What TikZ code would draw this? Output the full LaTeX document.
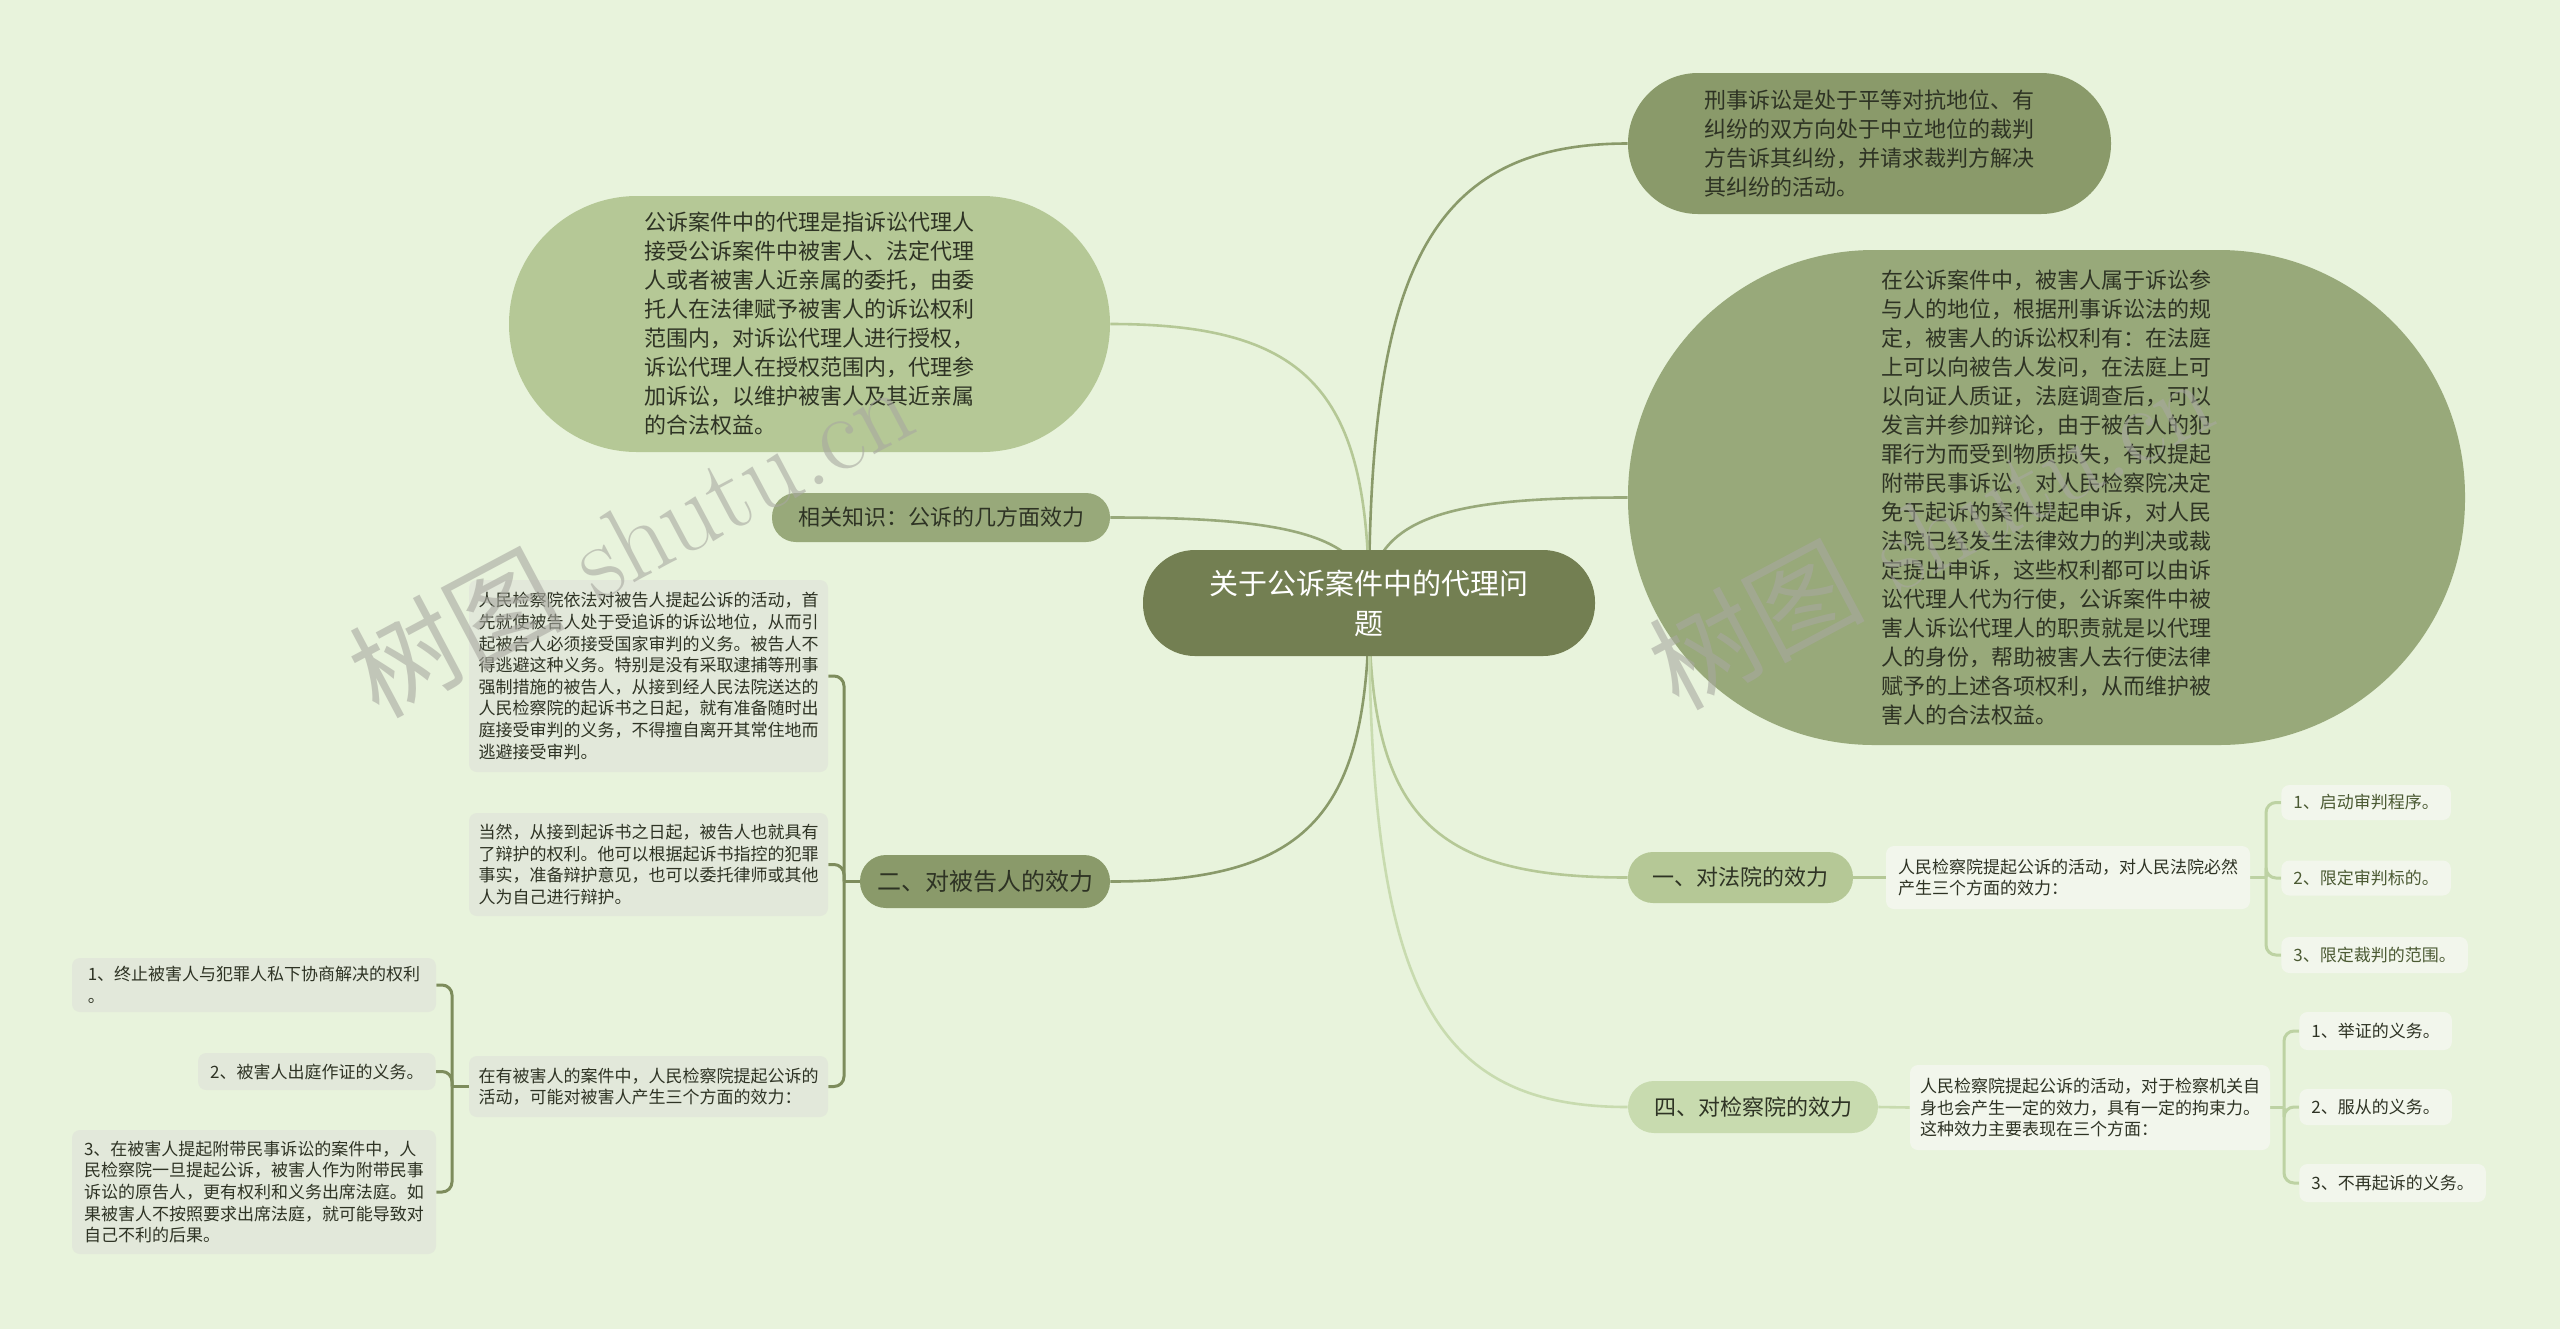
\documentclass[tikz,border=0pt]{standalone}
\usepackage{fontspec}
\newfontfamily\cjk{Noto Sans CJK SC}
\usetikzlibrary{positioning}

\definecolor{paper}{HTML}{E8F3DC}
\definecolor{rootc}{HTML}{737F52}
\definecolor{olive}{HTML}{8A9A6A}
\definecolor{sage}{HTML}{98A97A}
\definecolor{pale}{HTML}{B5C896}
\definecolor{mint}{HTML}{C8DBAF}
\definecolor{greybox}{HTML}{E2E8DA}
\definecolor{whitebox}{HTML}{F2F6EC}
\definecolor{ink}{HTML}{2E3324}
\definecolor{leafink}{HTML}{4B5A33}
\definecolor{darkline}{HTML}{7D8C5C}
\definecolor{lightline}{HTML}{BDD2A3}
\definecolor{mark}{HTML}{A8A8A0}

\pgfdeclarelayer{bg}
\pgfdeclarelayer{edges}
\pgfsetlayers{bg,edges,main}

\tikzset{
  big/.style={font=\cjk\fontsize{11}{14.5}\selectfont, text=ink, align=left, inner sep=0pt},
  small/.style={font=\cjk\fontsize{8.5}{10.8}\selectfont, text=ink, align=left, inner sep=0pt, rounded corners=4pt},
  link/.style={line width=1.3pt},
  brace/.style={line width=1.5pt, rounded corners=5pt},
  wmark/.style={rotate=28, text=mark, opacity=0.6, font=\fontsize{54}{60}\selectfont}
}

\begin{document}
\begin{tikzpicture}[x=0.5pt,y=-0.5pt]

\begin{pgfonlayer}{bg}
\fill[paper] (0,0) rectangle (2560,1329);
\end{pgfonlayer}
\useasboundingbox (0,0) rectangle (2560,1329);

\node[fill=rootc, rounded corners=26pt, minimum width=226pt, minimum height=53pt, inner sep=0pt, align=center, text=white, font=\cjk\fontsize{14.5}{20}\selectfont] (root) at (1369,603) {关于公诉案件中的代理问\\题};

\node[big, fill=olive, rounded corners=35pt, minimum width=241.5pt, minimum height=70.5pt] (dispute) at (1869.5,143.5)
  {刑事诉讼是处于平等对抗地位、有\\纠纷的双方向处于中立地位的裁判\\方告诉其纠纷，并请求裁判方解决\\其纠纷的活动。};
\node[big, fill=sage, rounded corners=123pt, minimum width=418.5pt, minimum height=247.5pt] (rights) at (2046.5,497.5)
  {在公诉案件中，被害人属于诉讼参\\与人的地位，根据刑事诉讼法的规\\定，被害人的诉讼权利有：在法庭\\上可以向被告人发问，在法庭上可\\以向证人质证，法庭调查后，可以\\发言并参加辩论，由于被告人的犯\\罪行为而受到物质损失，有权提起\\附带民事诉讼，对人民检察院决定\\免于起诉的案件提起申诉，对人民\\法院已经发生法律效力的判决或裁\\定提出申诉，这些权利都可以由诉\\讼代理人代为行使，公诉案件中被\\害人诉讼代理人的职责就是以代理\\人的身份，帮助被害人去行使法律\\赋予的上述各项权利，从而维护被\\害人的合法权益。};
\node[big, fill=pale, rounded corners=64pt, minimum width=300.5pt, minimum height=128pt] (agency) at (809.5,324)
  {公诉案件中的代理是指诉讼代理人\\接受公诉案件中被害人、法定代理\\人或者被害人近亲属的委托，由委\\托人在法律赋予被害人的诉讼权利\\范围内，对诉讼代理人进行授权，\\诉讼代理人在授权范围内，代理参\\加诉讼，以维护被害人及其近亲属\\的合法权益。};
\node[big, fill=sage, rounded corners=12pt, minimum width=169pt, minimum height=24.5pt] (related) at (941,517.5) {相关知识：公诉的几方面效力};
\node[big, fill=olive, rounded corners=13pt, minimum width=125pt, minimum height=26.5pt, font=\cjk\fontsize{12}{14}\selectfont] (accused) at (985,881.5) {二、对被告人的效力};
\node[big, fill=pale, rounded corners=12.5pt, minimum width=112.5pt, minimum height=25.5pt] (court) at (1740.5,877.5) {一、对法院的效力};
\node[big, fill=mint, rounded corners=13pt, minimum width=125pt, minimum height=26pt] (procur) at (1753,1107) {四、对检察院的效力};

\node[small, fill=greybox, minimum width=179.5pt, minimum height=96pt] (duty) at (648.5,676)
  {人民检察院依法对被告人提起公诉的活动，首\\先就使被告人处于受追诉的诉讼地位，从而引\\起被告人必须接受国家审判的义务。被告人不\\得逃避这种义务。特别是没有采取逮捕等刑事\\强制措施的被告人，从接到经人民法院送达的\\人民检察院的起诉书之日起，就有准备随时出\\庭接受审判的义务，不得擅自离开其常住地而\\逃避接受审判。};
\node[small, fill=greybox, minimum width=179.5pt, minimum height=51.5pt] (defence) at (648.5,864.5)
  {当然，从接到起诉书之日起，被告人也就具有\\了辩护的权利。他可以根据起诉书指控的犯罪\\事实，准备辩护意见，也可以委托律师或其他\\人为自己进行辩护。};
\node[small, fill=greybox, minimum width=179.5pt, minimum height=30.5pt] (victim) at (648.5,1086.5)
  {在有被害人的案件中，人民检察院提起公诉的\\活动，可能对被害人产生三个方面的效力：};
\node[small, fill=greybox, minimum width=182pt, minimum height=27pt] (v1) at (254,985)
  {1、终止被害人与犯罪人私下协商解决的权利\\。};
\node[small, fill=greybox, minimum height=18.5pt, inner xsep=6pt, anchor=east] (v2) at (436,1071.5) {2、被害人出庭作证的义务。};
\node[small, fill=greybox, minimum width=182pt, minimum height=62pt] (v3) at (254,1192)
  {3、在被害人提起附带民事诉讼的案件中，人\\民检察院一旦提起公诉，被害人作为附带民事\\诉讼的原告人，更有权利和义务出席法庭。如\\果被害人不按照要求出席法庭，就可能导致对\\自己不利的后果。};

\node[small, fill=whitebox, minimum width=182pt, minimum height=31.5pt] (courtx) at (2068,877.5)
  {人民检察院提起公诉的活动，对人民法院必然\\产生三个方面的效力：};
\node[small, fill=whitebox, text=leafink, minimum height=17.5pt, inner xsep=6pt, anchor=west] (c1) at (2281,802.5) {1、启动审判程序。};
\node[small, fill=whitebox, text=leafink, minimum height=17.5pt, inner xsep=6pt, anchor=west] (c2) at (2281,878) {2、限定审判标的。};
\node[small, fill=whitebox, text=leafink, minimum height=18pt, inner xsep=6pt, anchor=west] (c3) at (2281,955) {3、限定裁判的范围。};

\node[small, fill=whitebox, minimum width=180pt, minimum height=42.5pt] (procx) at (2090,1107.5)
  {人民检察院提起公诉的活动，对于检察机关自\\身也会产生一定的效力，具有一定的拘束力。\\这种效力主要表现在三个方面：};
\node[small, fill=whitebox, minimum height=19pt, inner xsep=6pt, anchor=west] (p1) at (2299,1031) {1、举证的义务。};
\node[small, fill=whitebox, minimum height=18pt, inner xsep=6pt, anchor=west] (p2) at (2299,1107) {2、服从的义务。};
\node[small, fill=whitebox, minimum height=19pt, inner xsep=6pt, anchor=west] (p3) at (2299,1183) {3、不再起诉的义务。};

\begin{pgfonlayer}{edges}
\draw[link, olive] (root.center) .. controls +(0,-330) and +(-200,0) .. (dispute.west);
\draw[link, sage] (root.center) .. controls +(0,-90) and +(-170,0) .. (rights.west);
\draw[link, pale] (root.center) .. controls +(0,-210) and +(200,0) .. (agency.east);
\draw[link, sage] (root.center) .. controls +(0,-70) and +(170,0) .. (related.east);
\draw[link, olive] (root.center) .. controls +(0,210) and +(200,0) .. (accused.east);
\draw[link, pale] (root.center) .. controls +(0,210) and +(-200,0) .. (court.west);
\draw[link, mint] (root.center) .. controls +(0,380) and +(-200,0) .. (procur.west);

\coordinate (ja) at (844,881.5);
\draw[brace, darkline] (accused.west) -- (ja);
\foreach \c in {duty,defence,victim} \draw[brace, darkline] (ja) |- (\c.east);
\coordinate (jv) at (452,1086.5);
\draw[brace, darkline] (victim.west) -- (jv);
\foreach \c in {v1,v2,v3} \draw[brace, darkline] (jv) |- (\c.east);

\draw[link, pale] (court.east) -- (courtx.west);
\coordinate (jc) at (2266,877.5);
\draw[brace, lightline] (courtx.east) -- (jc);
\foreach \c in {c1,c2,c3} \draw[brace, lightline] (jc) |- (\c.west);

\draw[link, mint] (procur.east) -- (procx.west);
\coordinate (jp) at (2284,1107.5);
\draw[brace, lightline] (procx.east) -- (jp);
\foreach \c in {p1,p2,p3} \draw[brace, lightline] (jp) |- (\c.west);
\end{pgfonlayer}

\node[wmark] (mk1) at (630,539) {{\cjk 树图} shutu.cn};
\node[wmark] (mk2) at (1930,531) {{\cjk 树图} shutu.cn};

\end{tikzpicture}
\end{document}
